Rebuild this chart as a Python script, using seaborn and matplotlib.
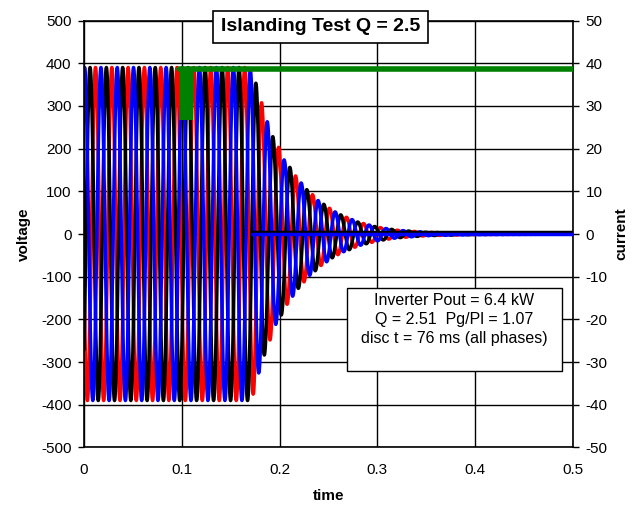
import numpy as np
import pandas as pd
import seaborn as sns
import matplotlib.pyplot as plt
import matplotlib.patches as mpatches

# ---- values ----
phases = ["red", "black", "blue"]
phase_lag_deg = [254, 134, 14]      # phase of each trace at t = 0
freq_grid = 60.0                    # Hz while grid connected
freq_island = 57.6                  # Hz after islanding
t_island = 0.1
v_peak = 390

# ring-down envelope of the voltage peaks (s, V)
env_t = [0.0, 0.168, 0.174, 0.178, 0.182, 0.186, 0.190, 0.195, 0.200, 0.205,
         0.210, 0.215, 0.220, 0.225, 0.230, 0.235, 0.240, 0.245, 0.250, 0.255,
         0.260, 0.265, 0.270, 0.280, 0.300, 0.320, 0.350, 0.400, 0.450, 0.500]
env_v = [v_peak, v_peak, 372, 330, 305, 270, 250, 215, 200, 172,
         158, 140, 125, 112, 98, 90, 77, 70, 62, 54,
         48, 42, 38, 28, 16, 9, 4, 1.5, 0.8, 0.4]

# inverter currents after disconnect (A)
current_t = [0.172, 0.5]
current_level = [0.3, 0.4, 0.0]

# green trace (right axis)
green_t = [0.0975, 0.5]
green_level = 38.6
burst_t = [0.0975, 0.1118]
burst_lo, burst_hi = 26.6, 39.0

title = "Islanding Test Q = 2.5"
info = "Inverter Pout = 6.4 kW\nQ = 2.51  Pg/Pl = 1.07\ndisc t = 76 ms (all phases)"

colors = {"red": "#ff0000", "black": "#000000", "blue": "#0000ff"}

# ---- build traces ----
t = np.linspace(0, 0.5, 8001)
cycles = np.where(t < t_island, freq_grid * t,
                  freq_grid * t_island + freq_island * (t - t_island))
env = np.interp(t, env_t, env_v)
rows = []
for name, lag in zip(phases, phase_lag_deg):
    v = env * np.cos(2 * np.pi * cycles - np.deg2rad(lag))
    rows.append(pd.DataFrame({"time": t, "voltage": v, "phase": name}))
volts = pd.concat(rows, ignore_index=True)

curr = pd.concat([pd.DataFrame({"time": current_t, "current": [lvl, lvl], "phase": name})
                  for name, lvl in zip(phases, current_level)], ignore_index=True)
green = pd.DataFrame({"time": green_t, "current": [green_level, green_level]})

sns.set_style("white")
plt.rcParams["font.family"] = ["Liberation Sans", "DejaVu Sans"]
plt.rcParams["axes.unicode_minus"] = False
plt.rcParams["text.color"] = "black"
plt.rcParams["axes.labelcolor"] = "black"

fig = plt.figure(figsize=(6.34, 5.08), dpi=100)
ax = fig.add_axes([0.1325, 0.1191, 0.7713, 0.8405])

sns.lineplot(data=volts, x="time", y="voltage", hue="phase", hue_order=phases,
             palette=colors, estimator=None, sort=False, linewidth=2.5,
             legend=False, ax=ax)

ax.set_xlim(0, 0.5)
ax.set_ylim(-500, 500)
ax.set_xticks(np.arange(0, 0.51, 0.1))
ax.set_xticklabels(["0", "0.1", "0.2", "0.3", "0.4", "0.5"])
ax.set_yticks(np.arange(-500, 501, 100))
ax.grid(True, color="black", linewidth=1.0)
ax.set_axisbelow(True)
for s in ax.spines.values():
    s.set_color("black")
    s.set_linewidth(1.2)
ax.tick_params(axis="y", direction="out", length=4, width=1, pad=5,
               labelsize=11, colors="black", left=True)
ax.tick_params(axis="x", length=0, pad=11, labelsize=11, colors="black")
ax.set_xlabel("time", fontsize=11, fontweight="bold", labelpad=9)
ax.set_ylabel("voltage", fontsize=11, fontweight="bold", labelpad=7)

ax2 = ax.twinx()
ax2.fill_between(burst_t, burst_lo, burst_hi, color="#008000", linewidth=0)
sns.lineplot(data=green, x="time", y="current", color="#008000",
             linewidth=4, estimator=None, ax=ax2)
sns.lineplot(data=curr, x="time", y="current", hue="phase", hue_order=phases,
             palette=colors, estimator=None, sort=False, linewidth=2.5,
             legend=False, ax=ax2)
ax2.set_ylim(-50, 50)
ax2.set_yticks(np.arange(-50, 51, 10))
ax2.tick_params(axis="y", direction="out", length=4, width=1, pad=5,
                labelsize=11, colors="black", right=True)
ax2.set_ylabel("current", fontsize=11, fontweight="bold", labelpad=5)
ax2.grid(False)
for s in ax2.spines.values():
    s.set_visible(False)

ax2.text(0.483, 0.985, title, transform=ax2.transAxes, ha="center", va="center",
         fontsize=14, fontweight="bold", zorder=10,
         bbox=dict(boxstyle="square,pad=0.4", facecolor="white",
                   edgecolor="black", linewidth=1.2))

ax2.add_patch(mpatches.Rectangle((0.537, 0.180), 0.44, 0.193, transform=ax2.transAxes,
                                 facecolor="white", edgecolor="black",
                                 linewidth=1.0, zorder=9))
ax2.text(0.757, 0.300, info, transform=ax2.transAxes, ha="center", va="center",
         fontsize=11.5, linespacing=1.3, zorder=10)

fig.savefig("out.png", dpi=100)
